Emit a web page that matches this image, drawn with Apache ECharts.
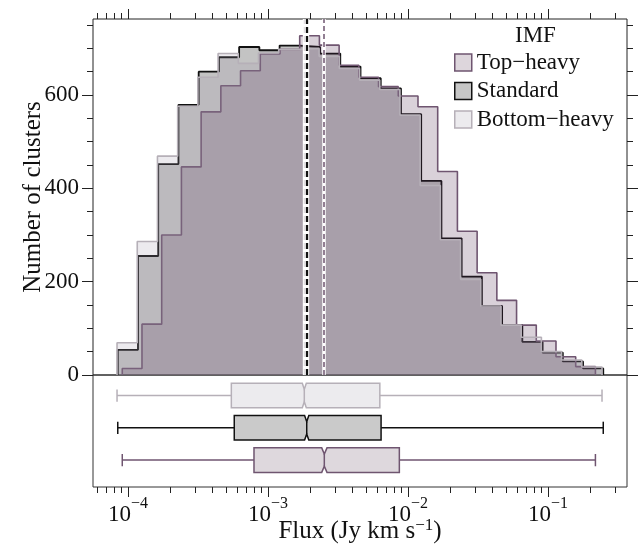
<!DOCTYPE html>
<html><head><meta charset="utf-8">
<script src="https://cdn.jsdelivr.net/npm/echarts@6/dist/echarts.min.js"></script>
<style>html,body{margin:0;padding:0;background:#fff}#c{width:640px;height:544px}</style>
</head><body><div id="c"></div><script>
const FONT = 'Liberation Serif';
const groups = ['Top−heavy', 'Standard', 'Bottom−heavy'];
// histogram counts (24 log-spaced bins each)
const countsTop = [14, 109, 300, 446, 564, 620, 652, 688, 698, 727, 707, 664, 638, 618, 598, 575, 436, 308, 219, 160, 107, 73, 39, 18];
const countsStd = [54, 255, 452, 579, 650, 681, 703, 696, 706, 703, 689, 661, 636, 614, 559, 416, 293, 211, 148, 107, 71, 48, 29, 14];
const countsBot = [69, 286, 469, 576, 638, 689, 668, 690, 698, 700, 683, 657, 632, 612, 557, 406, 290, 205, 148, 107, 81, 50, 32, 17];
// first and last bin edges (Jy km/s)
const edgesTop = [9.10e-5, 0.218];
const edgesStd = [8.45e-5, 0.248];
const edgesBot = [8.35e-5, 0.243];
// box stats: min, q1, median, q3, max, notchLo, notchHi (Jy km/s)
const boxTop = [9.10e-5, 7.94e-4, 2.524e-3, 8.67e-3, 0.218, 2.419e-3, 2.638e-3];
const boxStd = [8.45e-5, 5.74e-4, 1.890e-3, 6.42e-3, 0.248, 1.825e-3, 1.956e-3];
const boxBot = [8.35e-5, 5.47e-4, 1.816e-3, 6.29e-3, 0.243, 1.758e-3, 1.877e-3];
const yMajor = [0, 200, 400, 600];
const yMinor = [50, 100, 150, 250, 300, 350, 450, 500, 550, 650, 700, 750];
const xMajorExp = [-4, -3, -2, -1];
const xMinorMult = [2, 3, 4, 5, 6, 7, 8, 9];
const xMinorDecades = [-5, -4, -3, -2, -1];

const L = Math.log10;
const XMIN = -4.25, XMAX = -0.436, YMAX = 763;

const colTop = {line: '#6f5570', area: 'rgba(80,45,80,0.22)', legend: '#ddd6dc', box: '#ded8dd'};
const colStd = {line: '#111111', area: 'rgba(112,112,112,0.42)', legend: '#c6c6c6', box: '#cacaca'};
const colBot = {line: '#b6b0b8', area: 'rgba(160,150,170,0.2)', legend: '#ecebee', box: '#ecebee'};

function stepPoints(edges, counts) {
  const lo = L(edges[0]), hi = L(edges[1]), n = counts.length, w = (hi - lo) / n;
  const pts = [[lo, 0]];
  counts.forEach((c, i) => { pts.push([lo + i * w, c], [lo + (i + 1) * w, c]); });
  pts.push([hi, 0]);
  return pts;
}
const xMinor = [];
xMinorDecades.forEach(d => xMinorMult.forEach(m => { const v = d + L(m); if (v > XMIN && v < XMAX) xMinor.push(v); }));

function histSeries(name, edges, counts, col, z) {
  return {
    name, type: 'line', xAxisIndex: 0, yAxisIndex: 0, data: stepPoints(edges, counts),
    symbol: 'none', animation: false, z,
    itemStyle: {color: col.line},
    lineStyle: {color: col.line, width: col === colStd ? 1.8 : 1.6},
    areaStyle: {color: col.area, opacity: 1}
  };
}

const boxRows = [
  [1].concat(boxBot.map(L)),
  [2].concat(boxStd.map(L)),
  [3].concat(boxTop.map(L))
];
const boxCols = [colBot, colStd, colTop];

function renderBox(params, api) {
  const c = boxCols[params.dataIndex];
  const pos = api.value(0), mn = api.value(1), q1 = api.value(2), md = api.value(3),
        q3 = api.value(4), mx = api.value(5), nl = api.value(6), nh = api.value(7);
  const hw = 0.38, cap = 0.19;
  const P = (x, y) => api.coord([x, y]);
  const ls = {stroke: c.line, lineWidth: 1.5, fill: null};
  const poly = [P(q1, pos - hw), P(nl, pos - hw), P(md, pos - hw / 2), P(nh, pos - hw), P(q3, pos - hw),
                P(q3, pos + hw), P(nh, pos + hw), P(md, pos + hw / 2), P(nl, pos + hw), P(q1, pos + hw)];
  return {type: 'group', children: [
    {type: 'polyline', shape: {points: [P(mn, pos), P(q1, pos)]}, style: ls},
    {type: 'polyline', shape: {points: [P(q3, pos), P(mx, pos)]}, style: ls},
    {type: 'polyline', shape: {points: [P(mn, pos - cap), P(mn, pos + cap)]}, style: ls},
    {type: 'polyline', shape: {points: [P(mx, pos - cap), P(mx, pos + cap)]}, style: ls},
    {type: 'polygon', shape: {points: poly}, style: {fill: c.box, stroke: c.line, lineWidth: 1.5}},
    {type: 'polyline', shape: {points: [P(md, pos - hw / 2), P(md, pos + hw / 2)]}, style: ls}
  ]};
}

const axisCommon = {splitLine: {show: false}, axisLine: {show: false, onZero: false}};
const tickStyle = {color: '#222', width: 1};
const xBase = (grid, position, values, len, labels) => Object.assign({}, axisCommon, {
  type: 'value', gridIndex: grid, position, min: XMIN, max: XMAX,
  axisTick: {show: true, inside: false, length: len, lineStyle: tickStyle, customValues: values},
  axisLabel: labels ? {
    show: true, customValues: values, margin: 9,
    formatter: v => '{b|10}{s|' + String(Math.round(v)).replace('-', '−') + '}',
    rich: {
      b: {fontFamily: FONT, fontSize: 23, color: '#111', verticalAlign: 'bottom', lineHeight: 30},
      s: {fontFamily: FONT, fontSize: 16, color: '#111', verticalAlign: 'top', lineHeight: 30}
    }
  } : {show: false}
});
const yBase = (position, values, len, labels) => Object.assign({}, axisCommon, {
  type: 'value', gridIndex: 0, position, min: 0, max: YMAX,
  axisTick: {show: true, inside: false, length: len, lineStyle: tickStyle, customValues: values},
  axisLabel: labels ? {show: true, customValues: values, margin: 14, fontFamily: FONT, fontSize: 23, color: '#111'} : {show: false}
});

const xAxes = [
  xBase(0, 'top', xMajorExp, 10, false),
  xBase(0, 'top', xMinor, 6, false),
  Object.assign(xBase(1, 'bottom', xMajorExp, 10, true), {
    name: 'Flux (Jy km s{s|−1})', nameLocation: 'middle', nameGap: 30, nameMoveOverlap: false,
    nameTextStyle: {fontFamily: FONT, fontSize: 25, color: '#111',
      rich: {s: {fontFamily: FONT, fontSize: 17, color: '#111', verticalAlign: 'top', lineHeight: 28}}}
  }),
  xBase(1, 'bottom', xMinor, 6, false)
];
const yAxes = [
  Object.assign(yBase('left', yMajor, 11, true), {
    name: 'Number of clusters', nameLocation: 'middle', nameGap: 47, nameMoveOverlap: false,
    nameTextStyle: {fontFamily: FONT, fontSize: 25, color: '#111'}
  }),
  yBase('left', yMinor, 6, false),
  yBase('right', yMajor, 11, false),
  yBase('right', yMinor, 6, false),
  Object.assign({}, axisCommon, {type: 'value', gridIndex: 1, min: 0.365, max: 3.832, inverse: true,
    axisTick: {show: false}, axisLabel: {show: false}})
];

const medLines = [];
[[boxBot, '#dedade', 1.4, [6, 3]], [boxStd, colStd.line, 2.3, [6, 3]], [boxTop, colTop.line, 1.5, [5, 3]]]
  .forEach(([b, dc, w, dash]) => {
    medLines.push({xAxis: L(b[2]), lineStyle: {color: '#ffffff', width: w + 2, type: 'solid'}});
    medLines.push({xAxis: L(b[2]), lineStyle: {color: dc, width: w, type: dash}});
  });

const series = [
  histSeries(groups[1], edgesStd, countsStd, colStd, 2),
  histSeries(groups[0], edgesTop, countsTop, colTop, 3),
  Object.assign(histSeries(groups[2], edgesBot, countsBot, colBot, 4), {
    markLine: {symbol: 'none', silent: true, animation: false, label: {show: false}, emphasis: {disabled: true}, data: medLines}
  }),
  {type: 'custom', xAxisIndex: 2, yAxisIndex: 4, data: boxRows, renderItem: renderBox, animation: false, silent: true}
];

const chart = echarts.init(document.getElementById('c'), null, {renderer: 'canvas'});
chart.setOption({
  backgroundColor: '#fff',
  animation: false,
  textStyle: {fontFamily: FONT},
  title: {text: 'IMF', left: 515, top: 24, padding: 0,
    textStyle: {fontFamily: FONT, fontSize: 23, fontWeight: 'normal', color: '#111'}},
  legend: {
    orient: 'vertical', left: 454, top: 51, itemWidth: 17, itemHeight: 17, itemGap: 5.5,
    selectedMode: false, padding: 0,
    textStyle: {fontFamily: FONT, fontSize: 23, color: '#111'},
    data: [
      {name: groups[0], icon: 'rect', itemStyle: {color: colTop.legend, borderColor: colTop.line, borderWidth: 1.5}},
      {name: groups[1], icon: 'rect', itemStyle: {color: colStd.legend, borderColor: colStd.line, borderWidth: 1.5}},
      {name: groups[2], icon: 'rect', itemStyle: {color: colBot.legend, borderColor: colBot.line, borderWidth: 1.5}}
    ]
  },
  grid: [
    {left: 93, top: 19, width: 534, height: 356, show: true, borderColor: '#222', borderWidth: 1, backgroundColor: 'transparent', outerBoundsMode: 'none', containLabel: false},
    {left: 93, top: 375, width: 534, height: 112, show: true, borderColor: '#333', borderWidth: 1, backgroundColor: 'transparent', outerBoundsMode: 'none', containLabel: false}
  ],
  xAxis: xAxes,
  yAxis: yAxes,
  series
});
</script></body></html>
